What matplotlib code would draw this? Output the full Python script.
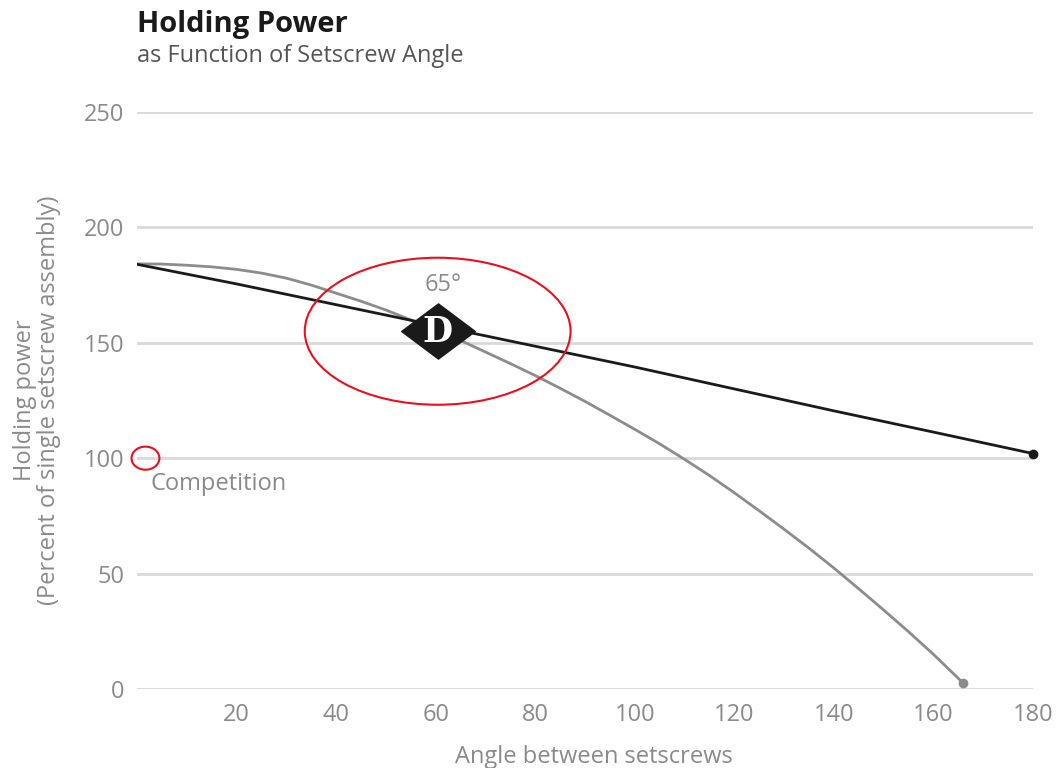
import matplotlib
matplotlib.use("Agg")
import matplotlib.pyplot as plt
from matplotlib.patches import Ellipse
from matplotlib.path import Path

plt.rcParams['font.family'] = ['Open Sans', 'DejaVu Sans']

# black curve (ours)
angle_ours = [0, 20, 40, 60, 80, 100, 120, 140, 160, 180]
power_ours = [184, 175.5, 166.5, 157.5, 148.5, 139.5, 130, 120.5, 111.3, 102]

# grey curve (competition)
angle_comp = [0, 5, 10, 15, 20, 25, 30, 35, 40, 45, 50, 55, 60, 65, 70, 75, 80, 85, 90,
              95, 100, 105, 110, 115, 120, 125, 130, 135, 140, 145, 150, 155, 160, 166]
power_comp = [184.2, 184.1, 183.6, 182.9, 181.8, 180.2, 178.0, 175.0, 171.5, 168.0, 164.2,
              159.9, 155.6, 151.0, 146.0, 141.0, 135.8, 130.3, 124.6, 118.6, 112.5, 106.2,
              99.5, 92.5, 85.0, 77.2, 69.2, 61.0, 52.4, 43.4, 34.2, 24.8, 15.0, 2.5]

x_ticks = [20, 40, 60, 80, 100, 120, 140, 160, 180]
y_ticks = [0, 50, 100, 150, 200, 250]

logo_x, logo_y = 60.4, 155
comp_x, comp_y = 1.7, 100

GREY_TXT = '#8a8a8a'
RED = '#e8101e'

fig = plt.figure(figsize=(10.62, 7.68), dpi=100)
ax = fig.add_axes([0.129, 0.1029, 0.8437, 0.7513])

ax.plot(angle_comp, power_comp, color='#8c8c8c', lw=2, solid_capstyle='round', zorder=3)
ax.plot(angle_comp[-1:], power_comp[-1:], 'o', color='#8c8c8c', ms=6, clip_on=False, zorder=4)
ax.plot(angle_ours, power_ours, color='#1a1a1a', lw=2, solid_capstyle='round', zorder=3)
ax.plot(angle_ours[-1:], power_ours[-1:], 'o', color='#1a1a1a', ms=6, clip_on=False, zorder=4)

# highlight ellipse and logo
ax.add_patch(Ellipse((logo_x, logo_y), 53.4, 63.7, fill=False, ec=RED, lw=1.5, zorder=5))
ax.add_patch(Ellipse((comp_x, comp_y), 5.6, 10, fill=False, ec=RED, lw=1.5, zorder=5, clip_on=False))

diamond = Path([(-1, 0), (0, 0.75), (1, 0), (0, -0.75), (-1, 0)],
               [Path.MOVETO, Path.LINETO, Path.LINETO, Path.LINETO, Path.CLOSEPOLY])
ax.plot([logo_x], [logo_y], marker=diamond, ms=53, color='#1a1a1a', mec='#1a1a1a', zorder=6)
ax.text(logo_x, logo_y - 0.5, 'D', family='DejaVu Serif', weight='bold', color='white',
        fontsize=25, ha='center', va='center', zorder=7)
ax.text(61.6, 175, '65°', color=GREY_TXT, fontsize=17, ha='center', va='center')
ax.text(2.7, 88.8, 'Competition', color=GREY_TXT, fontsize=17, ha='left', va='center')

ax.set_xlim(0, 180)
ax.set_ylim(0, 250)
ax.set_xticks(x_ticks)
ax.set_yticks(y_ticks)
ax.grid(axis='y', color='#d9d9d9', lw=2)
ax.set_axisbelow(True)
for s in ax.spines.values():
    s.set_visible(False)
ax.tick_params(length=0, labelsize=17, labelcolor=GREY_TXT)
ax.tick_params(axis='y', pad=9)
ax.tick_params(axis='x', pad=10)

ax.set_xlabel('Angle between setscrews', color=GREY_TXT, fontsize=17)
ax.xaxis.set_label_coords(0.51, -0.097)
ax.set_ylabel('Holding power\n(Percent of single setscrew assembly)', color=GREY_TXT,
              fontsize=17, linespacing=1.0)
ax.yaxis.set_label_coords(-0.085, 0.5)

fig.text(0.129, 0.958, 'Holding Power', fontsize=21, weight='bold', color='#1a1a1a', va='baseline')
fig.text(0.129, 0.919, 'as Function of Setscrew Angle', fontsize=17, color='#555555', va='baseline')

fig.savefig('out.png', dpi=100)
